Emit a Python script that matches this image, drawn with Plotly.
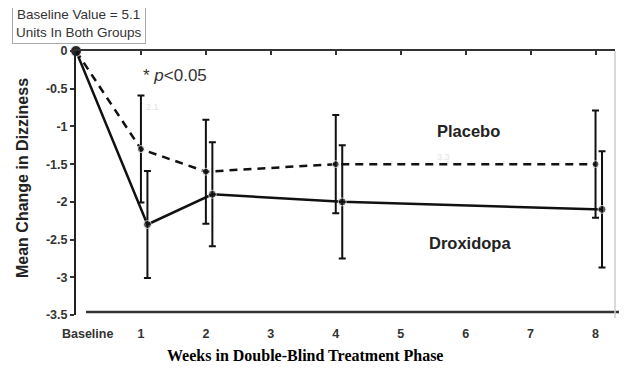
import plotly.graph_objects as go

weeks = [0, 1, 2, 4, 8]
drox_offset = [0, 0.1, 0.1, 0.1, 0.1]
placebo = [0, -1.3, -1.6, -1.5, -1.5]
placebo_err = [0, 0.71, 0.69, 0.65, 0.71]
drox = [0, -2.3, -1.9, -2.0, -2.1]
drox_err = [0, 0.71, 0.69, 0.75, 0.77]
x_tick_vals = [0.18, 1, 2, 3, 4, 5, 6, 7, 8]
x_tick_text = ["Baseline", "1", "2", "3", "4", "5", "6", "7", "8"]
y_tick_vals = [0, -0.5, -1, -1.5, -2, -2.5, -3, -3.5]
y_tick_text = ["0", "-0.5", "-1", "-1.5", "-2", "-2.5", "-3", "-3.5"]

OFF = 8  # default page body margin
W, H = 627 - OFF, 373 - OFF
L, T = 76 - OFF, 51 - OFF
R = W - (615 - OFF)
B = H - (315 - OFF)
pw, ph = W - L - R, H - T - B

def px(xp):
    return (xp - OFF - L) / pw

def py(yp):
    return (H - B - (yp - OFF)) / ph

fig = go.Figure()
fig.add_trace(go.Scatter(
    x=weeks, y=placebo, mode="lines+markers",
    line=dict(color="#111", width=2.5, dash="8px,6px"),
    marker=dict(color="#111", size=[11, 7, 7, 7, 7]),
    error_y=dict(type="data", array=placebo_err, color="#111", thickness=2, width=3.5),
    cliponaxis=False, showlegend=False))
fig.add_trace(go.Scatter(
    x=[w + o for w, o in zip(weeks, drox_offset)], y=drox, mode="lines+markers",
    line=dict(color="#111", width=2.5),
    marker=dict(color="#111", size=[11, 8, 8, 8, 8]),
    error_y=dict(type="data", array=drox_err, color="#111", thickness=2, width=3.5),
    cliponaxis=False, showlegend=False))

fig.update_layout(
    width=W, height=H,
    margin=dict(l=L, r=R, t=T, b=B),
    paper_bgcolor="white", plot_bgcolor="white",
    font=dict(family="Liberation Sans, Arial, sans-serif", color="#333"),
    xaxis=dict(range=[0, 8.3], showgrid=False, zeroline=False, showline=False,
               tickmode="array", tickvals=x_tick_vals, ticktext=x_tick_text,
               ticks="outside", ticklen=7, tickcolor="rgba(0,0,0,0)",
               tickfont=dict(size=12.5, color="#333", weight="bold")),
    xaxis2=dict(overlaying="x", matches="x", side="top", anchor="y",
                showgrid=False, zeroline=False, showline=True, linecolor="#333", linewidth=2,
                tickmode="array", tickvals=[1, 2, 3, 4, 5, 6, 7, 8], ticks="inside",
                ticklen=4, tickwidth=2, tickcolor="#333", showticklabels=False),
    yaxis=dict(range=[-3.5, 0], showgrid=False, zeroline=False, showline=True,
               linecolor="#222", linewidth=2, ticks="outside", ticklen=4, tickwidth=2,
               tickcolor="#333", tickmode="array", tickvals=y_tick_vals, ticktext=y_tick_text,
               tickfont=dict(size=12.5, color="#333", weight="bold")),
)
fig.add_trace(go.Scatter(x=[None], y=[None], xaxis="x2", showlegend=False, hoverinfo="skip"))

shapes = [
    dict(type="line", xref="paper", yref="paper", x0=px(86), x1=px(627), y0=py(312), y1=py(312),
         line=dict(color="#333", width=2.5)),
    dict(type="line", xref="paper", yref="paper", x0=px(615), x1=px(615), y0=py(51), y1=py(318),
         line=dict(color="#ccc", width=1.5)),
]
fig.update_layout(shapes=shapes)

def A(text, x, y, size, color="#333", **kw):
    d = dict(text=text, xref="paper", yref="paper", x=px(x), y=py(y), showarrow=False,
             xanchor="center", yanchor="middle", font=dict(size=size, color=color))
    d.update(kw)
    return d

ann = [
    A("Baseline Value = 5.1<br>Units In Both Groups", 79, 23, 13.5,
      bordercolor="#aaa", borderwidth=1, borderpad=3, bgcolor="white", align="center"),
    A("* <i>p</i>&lt;0.05", 175, 75, 17),
    A("<b>Placebo</b>", 468, 131, 16.5, "#222"),
    A("<b>Droxidopa</b>", 470, 243, 16.5, "#222"),
    A("<b>Mean Change in Dizziness</b>", 22, 178, 16, "#222", textangle=-90),
    A("<b>Weeks in Double-Blind Treatment Phase</b>", 305, 355, 16, "#000"),
    A("2.1", 152, 107, 9, "#e2e2e2"),
    A("3.3", 443, 157, 9, "#e2e2e2"),
]
ann[5]["font"]["family"] = "Liberation Serif, Times New Roman, serif"
fig.update_layout(annotations=ann)

fig.write_html("out.html")
